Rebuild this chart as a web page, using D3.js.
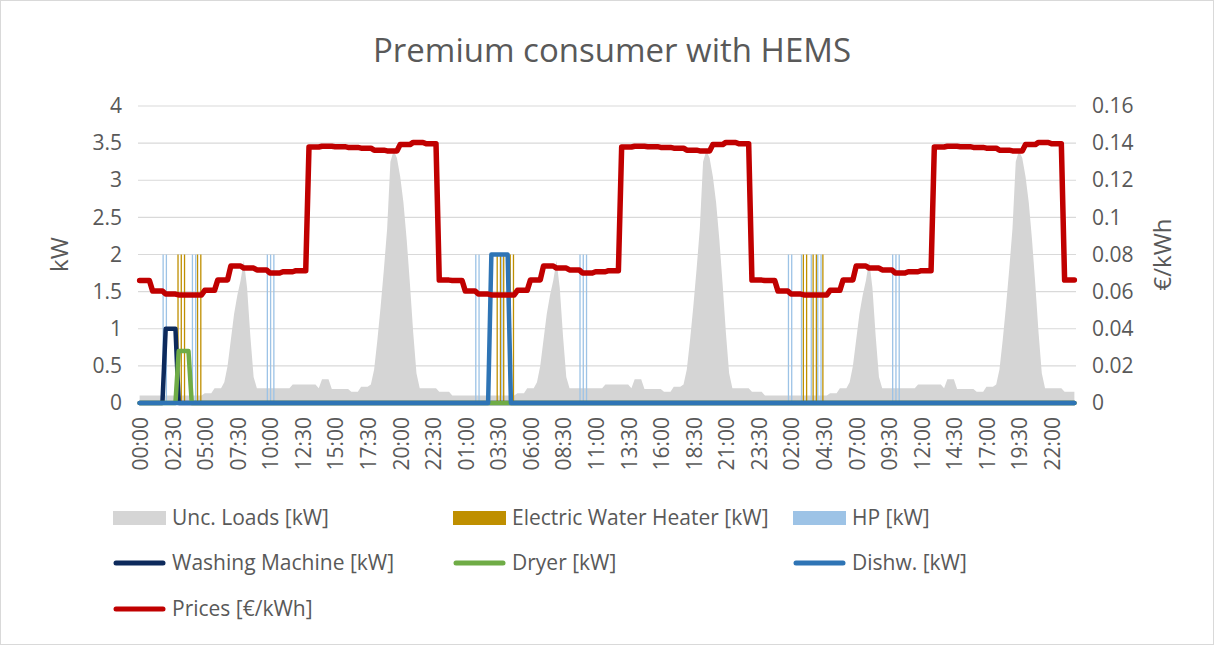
<!DOCTYPE html>
<html>
<head>
<meta charset="utf-8">
<script src="https://cdn.jsdelivr.net/npm/d3@7"></script>
<style>
  html, body { margin: 0; padding: 0; background: #fff; }
  svg { display: block; }
  text { font-family: "Open Sans", "DejaVu Sans", sans-serif; fill: #595959; }
</style>
</head>
<body>
<svg id="chart" width="1215" height="646"></svg>
<script>
// ---------------- DATA ----------------
const title = "Premium consumer with HEMS";

// Uncontrolled loads, kW, one value per quarter-hour (96 per day)
const uncLoadsDay1 = [
  0.10,0.10,0.10,0.10,0.10,0.10,0.10,0.10,0.10,0.10,0.10,0.10,0.10,0.10,0.10,0.10,0.10,0.10,0.10,0.10,
  0.13,0.13,0.13,0.20,0.20,0.20,
  0.28,0.50,0.85,1.20,1.45,1.65,1.92,1.55,0.90,0.35,0.20,
  0.20,0.20,0.20,0.20,0.20,0.20,0.20,0.20,0.20,0.20,
  0.25,0.25,0.25,0.25,0.25,0.25,0.25,0.25,
  0.20,0.32,0.32,0.32,
  0.19,0.19,0.19,0.19,0.19,0.19,
  0.15,0.15,0.15,0.22,0.22,0.22,
  0.25,0.45,0.85,1.30,1.80,2.35,3.25,3.40,3.30,3.05,2.70,2.20,1.60,0.95,0.40,
  0.20,0.20,0.20,0.20,0.20,0.20,
  0.15,0.15,0.15,0.15
];
const uncLoadsDay2 = [
  0.10,0.10,0.10,0.10,0.10,0.10,0.10,0.10,0.10,0.10,0.10,0.10,0.10,0.10,0.10,0.10,0.10,0.10,0.10,0.10,
  0.13,0.13,0.13,0.20,0.20,0.20,
  0.28,0.50,0.85,1.20,1.45,1.65,1.92,1.55,0.90,0.35,0.20,
  0.20,0.20,0.20,0.20,0.20,0.20,0.20,0.20,0.20,0.20,
  0.25,0.25,0.25,0.25,0.25,0.25,0.25,0.25,
  0.20,0.32,0.32,0.32,
  0.19,0.19,0.19,0.19,0.19,0.19,
  0.15,0.15,0.15,0.22,0.22,0.22,
  0.25,0.45,0.85,1.30,1.80,2.35,3.25,3.40,3.30,3.05,2.70,2.20,1.60,0.95,0.40,
  0.20,0.20,0.20,0.20,0.20,0.20,
  0.15,0.15,0.15,0.15
];
const uncLoadsDay3 = [
  0.10,0.10,0.10,0.10,0.10,0.10,0.10,0.10,0.10,0.10,0.10,0.10,0.10,0.10,0.10,0.10,0.10,0.10,0.10,0.10,
  0.13,0.13,0.13,0.20,0.20,0.20,
  0.28,0.50,0.85,1.20,1.45,1.65,1.92,1.55,0.90,0.35,0.20,
  0.20,0.20,0.20,0.20,0.20,0.20,0.20,0.20,0.20,0.20,
  0.25,0.25,0.25,0.25,0.25,0.25,0.25,0.25,
  0.20,0.32,0.32,0.32,
  0.19,0.19,0.19,0.19,0.19,0.19,
  0.15,0.15,0.15,0.22,0.22,0.22,
  0.25,0.45,0.85,1.30,1.80,2.35,3.25,3.40,3.30,3.05,2.70,2.20,1.60,0.95,0.40,
  0.20,0.20,0.20,0.20,0.20,0.20,
  0.15,0.15,0.15,0.15
];

// Hourly prices, €/kWh (24 per day)
const pricesDay1 = [0.0660,0.0603,0.0587,0.0582,0.0582,0.0607,0.0663,0.0738,0.0727,0.0717,0.0700,0.0707,
                    0.0713,0.1379,0.1383,0.1381,0.1377,0.1373,0.1362,0.1358,0.1392,0.1404,0.1396,0.0662];
const pricesDay2 = [0.0660,0.0603,0.0587,0.0582,0.0582,0.0607,0.0663,0.0738,0.0727,0.0717,0.0700,0.0707,
                    0.0713,0.1379,0.1383,0.1381,0.1377,0.1373,0.1362,0.1358,0.1392,0.1404,0.1396,0.0662];
const pricesDay3 = [0.0660,0.0603,0.0587,0.0582,0.0582,0.0607,0.0663,0.0738,0.0727,0.0717,0.0700,0.0707,
                    0.0713,0.1379,0.1383,0.1381,0.1377,0.1373,0.1362,0.1358,0.1392,0.1404,0.1396,0.0662];

// Switchable loads: [quarter-hour index, kW] for every non-zero value
const washingMachine = [[8,1],[9,1],[10,1],[11,1]];
const dryer          = [[12,0.7],[13,0.7],[14,0.7],[15,0.7]];
const dishwasher     = [[108,2],[109,2],[110,2],[111,2],[112,2],[113,2]];
const waterHeater    = [[12,2],[13,2],[14,2],[18,2],[19,2],
                        [110,2],[111,2],[112,2],[114,2],[115,2],
                        [204,2],[205,2],[207,2],[208,2],[210,2]];
const heatPump       = [[7,2],[8,2],[16,2],[17,2],[39,2],[40,2],[41,2],
                        [103,2],[104,2],[111,2],[135,2],[136,2],[137,2],
                        [199,2],[200,2],[203,2],[206,2],[208,2],[209,2],[231,2],[232,2],[233,2]];

const timeLabels = ["00:00","02:30","05:00","07:30","10:00","12:30","15:00","17:30","20:00","22:30",
                    "01:00","03:30","06:00","08:30","11:00","13:30","16:00","18:30","21:00","23:30",
                    "02:00","04:30","07:00","09:30","12:00","14:30","17:00","19:30","22:00"];
const kwTicks = [0,0.5,1,1.5,2,2.5,3,3.5,4];
const priceTicks = [0,0.02,0.04,0.06,0.08,0.1,0.12,0.14,0.16];

const legendItems = [
  {name:"Unc. Loads [kW]", type:"rect", color:"#d5d5d5"},
  {name:"Electric Water Heater [kW]", type:"rect", color:"#bf8f00"},
  {name:"HP [kW]", type:"rect", color:"#9dc3e6"},
  {name:"Washing Machine [kW]", type:"line", color:"#0d2a5c"},
  {name:"Dryer [kW]", type:"line", color:"#6fac46"},
  {name:"Dishw. [kW]", type:"line", color:"#2e74b5"},
  {name:"Prices [€/kWh]", type:"line", color:"#c00000"}
];

// ---------------- BUILD SERIES ----------------
const uncLoads = uncLoadsDay1.concat(uncLoadsDay2, uncLoadsDay3);
const N = uncLoads.length; // 288 quarter-hours
const hourlyPrices = pricesDay1.concat(pricesDay2, pricesDay3);
const priceSeries = uncLoads.map((_, i) => hourlyPrices[Math.floor(i / 4)]);
function expand(pairs) {
  const arr = new Array(N).fill(0);
  pairs.forEach(([i, v]) => arr[i] = v);
  return arr;
}
const wmSeries = expand(washingMachine);
const drSeries = expand(dryer);
const dwSeries = expand(dishwasher);

// ---------------- CHART ----------------
const svg = d3.select("#chart");
const L = 138, R = 1076, T = 106, B = 403;

svg.append("rect").attr("x",0.5).attr("y",0.5).attr("width",1213).attr("height",644)
  .attr("fill","#fff").attr("stroke","#d9d9d9").attr("stroke-width",1);

const x = d3.scaleBand().domain(d3.range(N)).range([L, R]).padding(0);
const xc = i => x(i) + x.bandwidth() / 2;
const yL = d3.scaleLinear().domain([0, 4]).range([B, T]);
const yR = d3.scaleLinear().domain([0, 0.16]).range([B, T]);

// gridlines
svg.append("g").selectAll("line").data(kwTicks).join("line")
  .attr("x1", L).attr("x2", R)
  .attr("y1", d => yL(d)).attr("y2", d => yL(d))
  .attr("stroke", "#d9d9d9").attr("stroke-width", 1.2);

// Unc loads area
svg.append("path").datum(uncLoads)
  .attr("fill", "#d5d5d5")
  .attr("d", d3.area().x((d, i) => xc(i)).y0(yL(0)).y1(d => yL(d)));

// Columns: EWH and HP (clustered)
const bw = 1.3;
svg.append("g").selectAll("rect").data(waterHeater).join("rect")
  .attr("x", d => xc(d[0]) - 0.7 - bw / 2).attr("width", bw)
  .attr("y", d => yL(d[1])).attr("height", d => yL(0) - yL(d[1]))
  .attr("fill", "#bf8f00");
svg.append("g").selectAll("rect").data(heatPump).join("rect")
  .attr("x", d => xc(d[0]) + 0.7 - bw / 2).attr("width", bw)
  .attr("y", d => yL(d[1])).attr("height", d => yL(0) - yL(d[1]))
  .attr("fill", "#9dc3e6");

// lines
const lineKW = d3.line().x((d, i) => xc(i)).y(d => yL(d));
function drawLine(data, color, w, gen) {
  svg.append("path").datum(data)
    .attr("fill", "none").attr("stroke", color).attr("stroke-width", w)
    .attr("stroke-linejoin", "round").attr("stroke-linecap", "round")
    .attr("d", gen);
}
drawLine(wmSeries, "#0d2a5c", 4.5, lineKW);
drawLine(drSeries, "#6fac46", 4.5, lineKW);
drawLine(dwSeries, "#2e74b5", 4.5, lineKW);
drawLine(priceSeries, "#c00000", 5.5, d3.line().x((d, i) => xc(i)).y(d => yR(d)));

// Left axis labels
const axL = svg.append("g").attr("transform", `translate(${L - 13},0)`)
  .call(d3.axisLeft(yL).tickValues(kwTicks).tickFormat(d => String(d)).tickSize(0));
axL.select(".domain").remove();
axL.selectAll("text").style("font-size", "21px").attr("fill", "#595959");

// Right axis labels
const axR = svg.append("g").attr("transform", `translate(${R + 13},0)`)
  .call(d3.axisRight(yR).tickValues(priceTicks).tickFormat(d => String(d)).tickSize(0));
axR.select(".domain").remove();
axR.selectAll("text").style("font-size", "21px").attr("fill", "#595959");

// X axis labels (every 10th quarter-hour)
const tickIdx = timeLabels.map((_, k) => k * 10);
svg.append("g").selectAll("text").data(tickIdx).join("text")
  .attr("transform", d => `translate(${xc(d) + 1},${B + 14}) rotate(-90)`)
  .attr("text-anchor", "end").attr("dy", "0.35em")
  .style("font-size", "21px")
  .text((d, k) => timeLabels[k]);

// Axis titles
svg.append("text").attr("transform", `translate(60,${(T + B) / 2}) rotate(-90)`)
  .attr("text-anchor", "middle").attr("dy", "0.35em").style("font-size", "24px").text("kW");
svg.append("text").attr("transform", `translate(1163,${(T + B) / 2}) rotate(-90)`)
  .attr("text-anchor", "middle").attr("dy", "0.35em").style("font-size", "24px").text("€/kWh");

// Title
svg.append("text").attr("x", 612).attr("y", 62).attr("text-anchor", "middle")
  .style("font-size", "33px").text(title);

// Legend
const colX = [113, 453, 793];
const rowY = [518, 563, 609];
legendItems.forEach((it, k) => {
  const cx = colX[k % 3], cy = rowY[Math.floor(k / 3)];
  if (it.type === "rect") {
    svg.append("rect").attr("x", cx).attr("y", cy - 7).attr("width", 53).attr("height", 14).attr("fill", it.color);
  } else {
    svg.append("line").attr("x1", cx + 3).attr("x2", cx + 50).attr("y1", cy).attr("y2", cy)
      .attr("stroke", it.color).attr("stroke-width", 5).attr("stroke-linecap", "round");
  }
  svg.append("text").attr("x", cx + 59).attr("y", cy).attr("dy", "0.35em")
    .style("font-size", "21px").text(it.name);
});
</script>
</body>
</html>
